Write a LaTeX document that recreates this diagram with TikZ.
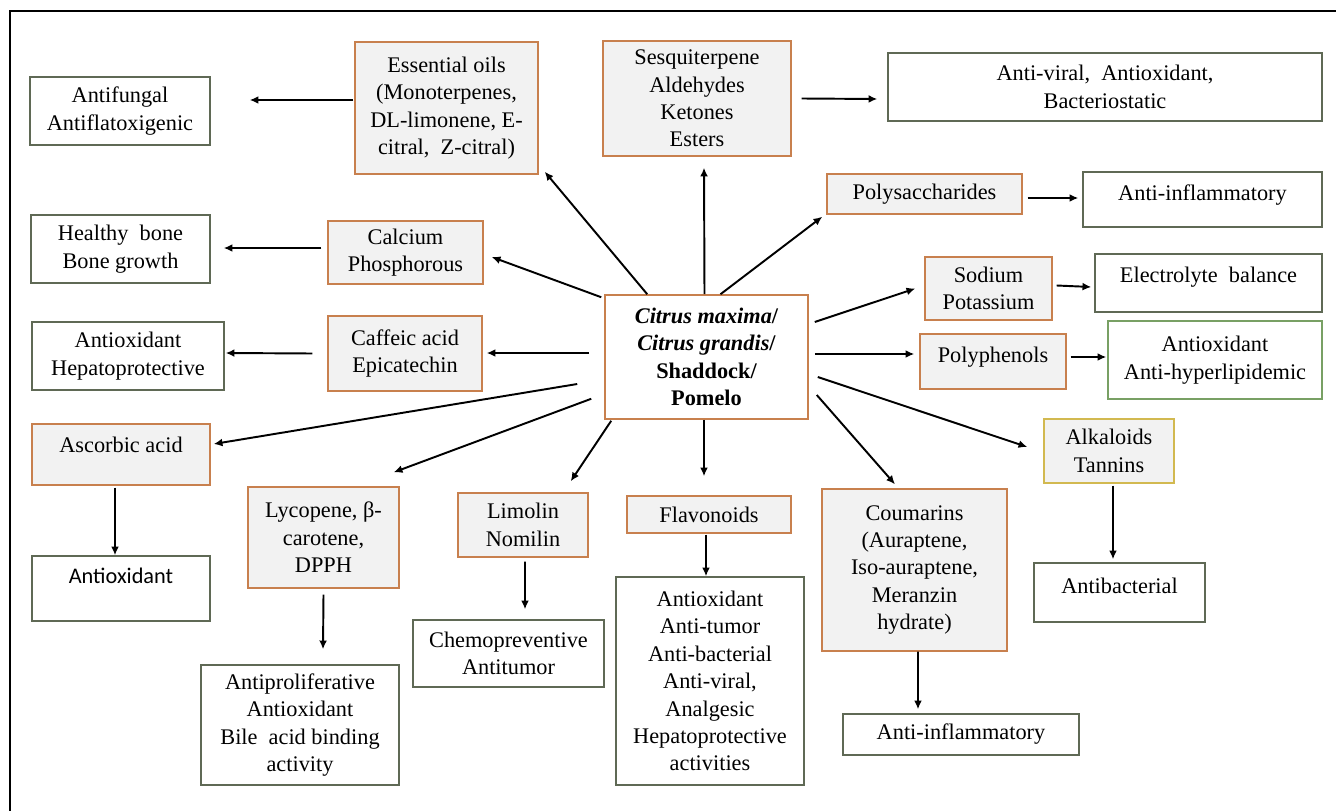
\documentclass[tikz,border=0pt]{standalone}
\usepackage{fontspec}
\setmainfont{Liberation Serif}
\newfontfamily\calibri{Carlito}
\usepackage{tikz}
\usetikzlibrary{arrows.meta,calc}
\definecolor{boxorange}{RGB}{200,128,78}
\definecolor{boxgrey}{RGB}{242,242,242}
\definecolor{effectgreen}{RGB}{95,105,85}
\definecolor{hypergreen}{RGB}{120,160,100}
\definecolor{alkyellow}{RGB}{210,185,80}

\begin{document}
\begin{tikzpicture}[x=0.02cm,y=-0.02cm,>={Latex[length=5pt,width=4.5pt]},font=\fontsize{12.7}{15.6}\selectfont]
    \tikzstyle{chem}=[draw=boxorange,fill=boxgrey,line width=0.8pt,align=center,inner sep=2pt]
    \tikzstyle{effect}=[draw=effectgreen,fill=white,line width=0.8pt,align=center,inner sep=2pt]
    \tikzstyle{hub}=[draw=boxorange,line width=0.9pt,align=center,font=\fontsize{12.7}{15.6}\selectfont\bfseries]
    \tikzstyle{link}=[->,line width=1.1pt]
    \useasboundingbox (0,0) rectangle (1336,811);
    \draw[line width=1.7pt] (10,811) -- (10,11) -- (1336,11);

    \begin{scope}
    \node[hub,minimum width=4.06cm,minimum height=2.48cm] (hub) at (706.5,357)
        {\textit{Citrus maxima}/\\\textit{Citrus grandis}/\\Shaddock/\\Pomelo};

    \node[chem,minimum width=3.66cm,minimum height=2.64cm] (oils) at (446.5,108)
        {Essential oils\\(Monoterpenes,\\DL-limonene, E-\\citral, \ Z-citral)};
    \node[chem,minimum width=3.76cm,minimum height=2.30cm] (sesq) at (697,98.5)
        {Sesquiterpene\\Aldehydes\\Ketones\\Esters};
    \node[chem,minimum width=3.90cm,minimum height=0.80cm] (poly) at (924.5,194) {Polysaccharides};
    \node[chem,minimum width=2.54cm,minimum height=1.26cm] (sodium) at (988.5,288.5) {Sodium\\Potassium};
    \node[chem,minimum width=2.92cm,minimum height=1.10cm,text height=9pt,text depth=7.6pt] (phen) at (993,361.5) {Polyphenols};
    \node[chem,draw=alkyellow,minimum width=2.60cm,minimum height=1.28cm] (alk) at (1109,451) {Alkaloids\\Tannins};
    \node[chem,minimum width=3.70cm,minimum height=3.24cm] (coum) at (914.5,570)
        {Coumarins\\(Auraptene,\\Iso-auraptene,\\Meranzin\\hydrate)};
    \node[chem,minimum width=3.28cm,minimum height=0.74cm] (flav) at (709,514.5) {Flavonoids};
    \node[chem,minimum width=2.60cm,minimum height=1.28cm] (limo) at (523,525) {Limolin\\Nomilin};
    \node[chem,minimum width=3.02cm,minimum height=2.02cm] (lyco) at (323.5,537.5) {Lycopene, β-\\carotene,\\DPPH};
    \node[chem,minimum width=3.56cm,minimum height=1.22cm,text height=9pt,text depth=11pt] (ascorbic) at (121,454.5) {Ascorbic acid};
    \node[chem,minimum width=3.08cm,minimum height=1.50cm] (caffeic) at (405,353.5) {Caffeic acid\\Epicatechin};
    \node[chem,minimum width=3.10cm,minimum height=1.26cm] (calcium) at (405.5,252.5) {Calcium\\Phosphorous};

    \node[effect,minimum width=3.60cm,minimum height=1.36cm] (fungal) at (120,111) {Antifungal\\Antiflatoxigenic};
    \node[effect,minimum width=3.58cm,minimum height=1.36cm] (bone) at (120.5,249) {Healthy \ bone\\Bone growth};
    \node[effect,minimum width=3.84cm,minimum height=1.36cm] (hepato) at (128,356) {Antioxidant\\Hepatoprotective};
    \node[effect,minimum width=3.56cm,minimum height=1.30cm,text height=9pt,text depth=14.4pt,font=\fontsize{12.7}{15.6}\selectfont\calibri] (antiox) at (121,588.5) {Antioxidant};
    \node[effect,minimum width=3.96cm,minimum height=2.40cm] (prolif) at (300,725)
        {Antiproliferative\\Antioxidant\\Bile \ acid binding\\activity};
    \node[effect,minimum width=3.82cm,minimum height=1.34cm] (chemo) at (508.5,653.5) {Chemopreventive\\Antitumor};
    \node[effect,minimum width=3.76cm,minimum height=4.16cm] (flavres) at (710,681)
        {Antioxidant\\Anti-tumor\\Anti-bacterial\\Anti-viral,\\Analgesic\\Hepatoprotective\\activities};
    \node[effect,minimum width=4.72cm,minimum height=0.82cm] (inflamb) at (961,734.5) {Anti-inflammatory};
    \node[effect,minimum width=3.42cm,minimum height=1.18cm,text height=9pt,text depth=8.1pt] (antibac) at (1119.5,592.5) {Antibacterial};
    \node[effect,draw=hypergreen,minimum width=4.28cm,minimum height=1.56cm] (hyper) at (1215,360) {Antioxidant\\Anti-hyperlipidemic};
    \node[effect,minimum width=4.54cm,minimum height=1.16cm,text height=9pt,text depth=9.3pt] (electro) at (1208.5,283) {Electrolyte \ balance};
    \node[effect,minimum width=4.78cm,minimum height=1.10cm,text height=9pt,text depth=8.1pt] (inflama) at (1202.5,199.5) {Anti-inflammatory};
    \node[effect,minimum width=8.68cm,minimum height=1.36cm] (viral) at (1105,87) {Anti-viral, \ Antioxidant,\\Bacteriostatic};
    \end{scope}

    \draw[link] ($(hub.north west)+(43,0)$) -- ($(oils.south east)+(6,-3)$);
    \draw[link] ($(hub.north)+(-2,0)$) -- ($(sesq.south)+(7,11)$);
    \draw[link] ($(hub.north)+(14,0)$) -- ($(poly.south west)+(-4,2)$);
    \draw[link] ($(hub.north west)+(-3,3)$) -- ($(calcium.east)+(8,4.5)$);
    \draw[link] ($(hub.west)+(-15,-4)$) -- ($(caffeic.east)+(4,-0.5)$);
    \draw[link] ($(hub.west)+(-27,27)$) -- ($(ascorbic.east)+(3,-10.5)$);
    \draw[link] ($(hub.south west)+(-13,-21)$) -- ($(lyco.north east)+(-6,-14)$);
    \draw[link] ($(hub.south west)+(7,1)$) -- ($(limo.north east)+(-18,-11)$);
    \draw[link] ($(hub.south)+(-2.5,0)$) -- ($(flav.north)+(-5,-19)$);
    \draw[link] ($(hub.east)+(8,38)$) -- ($(coum.north)+(-19.5,-4)$);
    \draw[link] ($(hub.east)+(9,20)$) -- ($(alk.west)+(-16,-4)$);
    \draw[link] ($(hub.east)+(6,-3)$) -- ($(phen.west)+(-5,-7.5)$);
    \draw[link] ($(hub.east)+(6,-35)$) -- ($(sodium.west)+(-9,0)$);

    \draw[link] ($(oils.west)+(-1,-8)$) -- ($(fungal.east)+(39,-11)$);
    \draw[link] ($(calcium.west)+(-6,-4.5)$) -- ($(bone.east)+(13,-1)$);
    \draw[link] ($(caffeic.west)+(-15,0)$) -- ($(hepato.east)+(1,-3)$);
    \draw[link] ($(sesq.east)+(10,0)$) -- ($(viral.west)+(-10,12)$);
    \draw[link] ($(poly.east)+(5,4)$) -- ($(inflama.west)+(-4,-1.5)$);
    \draw[link] ($(sodium.east)+(4,-3)$) -- ($(electro.west)+(-3,4)$);
    \draw[link] ($(phen.east)+(4,-4.5)$) -- ($(hyper.west)+(-1,-3)$);
    \draw[link] ($(alk.south)+(4,2)$) -- ($(antibac.north)+(-6.5,-3)$);
    \draw[link] ($(coum.south)+(3.5,0)$) -- ($(inflamb.north)+(-43,-4)$);
    \draw[link] ($(flav.south)+(-3,1)$) -- ($(flavres.north)+(-4,0)$);
    \draw[link] ($(limo.south)+(2,4)$) -- ($(chemo.north)+(16.5,-10)$);
    \draw[link] ($(lyco.south)+(0,6)$) -- ($(prolif.north)+(23,-15)$);
    \draw[link] ($(ascorbic.south)+(-6,2)$) -- ($(antiox.north)+(-6,0)$);
\end{tikzpicture}
\end{document}
